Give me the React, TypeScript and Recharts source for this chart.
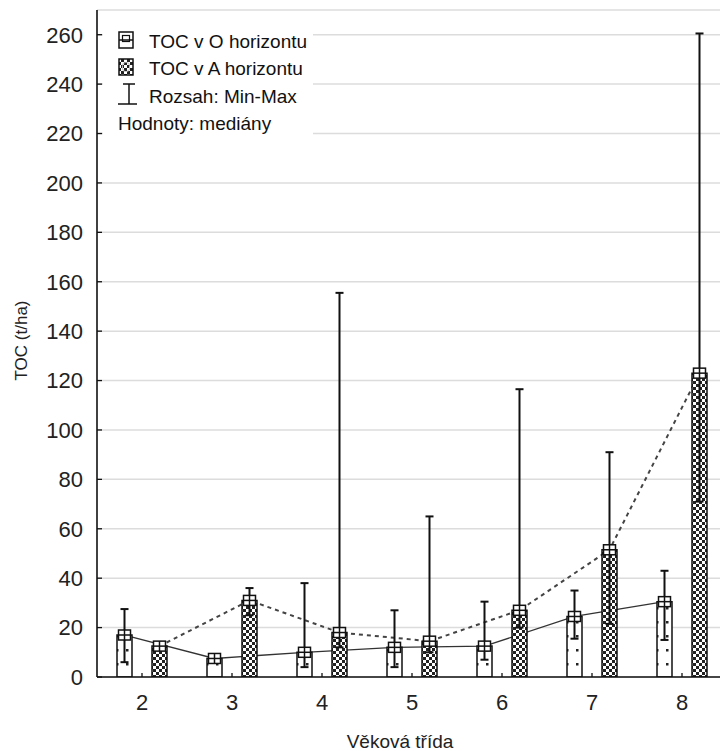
import { Bar, CartesianGrid, ComposedChart, ErrorBar, Legend, Line, XAxis, YAxis } from 'recharts';

const CATEGORIES = ['2', '3', '4', '5', '6', '7', '8'];
// TOC v O horizontu (medián, min, max)
const O_MEDIAN = [17, 7.5, 10, 12, 12.5, 24.5, 30.5];
const O_MIN = [6, 6.5, 4, 4, 7, 15.5, 15];
const O_MAX = [27.5, 8.5, 38, 27, 30.5, 35, 43];
// TOC v A horizontu (medián, min, max)
const A_MEDIAN = [12.5, 31, 18, 14.5, 27, 51.5, 123];
const A_MIN = [11, 25, 12, 10, 20, 21.5, 71];
const A_MAX = [13.5, 36, 155.5, 65, 116.5, 91, 260.5];
const Y_TICKS = [0, 20, 40, 60, 80, 100, 120, 140, 160, 180, 200, 220, 240, 260];

const FONT = '"Liberation Sans", Arial, sans-serif';
const PLOT_LEFT = 97;
const PLOT_W = 630;
const BAR_SIZE = 15;
const BAR_GAP = 20;
// bar centre offset inside a category, in category units
const SHIFT = (BAR_SIZE + BAR_GAP) / 2 / (PLOT_W / CATEGORIES.length);

const data = CATEGORIES.map((cat, i) => ({
  cat,
  o: O_MEDIAN[i],
  a: A_MEDIAN[i],
  errO: [O_MEDIAN[i] - O_MIN[i], O_MAX[i] - O_MEDIAN[i]],
  errA: [A_MEDIAN[i] - A_MIN[i], A_MAX[i] - A_MEDIAN[i]],
  xO: Number(cat) - SHIFT,
  xA: Number(cat) + SHIFT,
}));

function MedianMarker(props: any) {
  const { cx, cy } = props;
  if (cx == null || cy == null) return null;
  return (
    <g>
      <rect x={cx - 6} y={cy - 5} width={12} height={10} fill="#fff" stroke="#111" strokeWidth={1.5} />
      <line x1={cx - 6} x2={cx + 6} y1={cy} y2={cy} stroke="#111" strokeWidth={1.5} />
      <line x1={cx} x2={cx} y1={cy - 5} y2={cy + 5} stroke="#111" strokeWidth={1.5} />
    </g>
  );
}

function LegendBox() {
  const txt = { fontSize: 19, fill: '#111', fontFamily: FONT };
  return (
    <svg width={210} height={125} style={{ display: 'block' }}>
      <rect x={0} y={0} width={210} height={125} fill="#fff" />
      <rect x={16} y={15} width={14} height={16} fill="#fff" stroke="#111" strokeWidth={1.5} />
      <rect x={19.5} y={18.5} width={7} height={6} fill="none" stroke="#111" strokeWidth={1.2} />
      <line x1={16} x2={30} y1={23} y2={23} stroke="#111" strokeWidth={1.5} />
      <text x={46} y={31} {...txt}>TOC v O horizontu</text>
      <rect x={16} y={42} width={14} height={16} fill="url(#aFill)" stroke="#111" strokeWidth={1.5} />
      <rect x={19.5} y={45.5} width={7} height={9} rx={3} fill="none" stroke="#bbb" strokeWidth={1} />
      <text x={46} y={58} {...txt}>TOC v A horizontu</text>
      <line x1={20} x2={32} y1={67} y2={67} stroke="#111" strokeWidth={1.5} />
      <line x1={26} x2={26} y1={67} y2={87} stroke="#111" strokeWidth={1.5} />
      <line x1={15} x2={34} y1={87} y2={87} stroke="#111" strokeWidth={1.5} />
      <text x={46} y={86} {...txt}>Rozsah: Min-Max</text>
      <text x={15} y={113} {...txt}>Hodnoty: mediány</text>
    </svg>
  );
}

function YTitle(props: any) {
  const vb = props.viewBox || { y: 10, height: 667 };
  const cy = vb.y + vb.height / 2 - 3;
  return (
    <text transform={`translate(27, ${cy}) rotate(-90)`} textAnchor="middle" fontSize={17} fill="#222" fontFamily={FONT}>
      TOC (t/ha)
    </text>
  );
}

function XTitle(props: any) {
  const vb = props.viewBox || { x: 97, y: 677, width: 630, height: 74 };
  return (
    <text x={vb.x + vb.width / 2 - 12} y={vb.y + vb.height - 3} textAnchor="middle" fontSize={19} fill="#222" fontFamily={FONT}>
      Věková třída
    </text>
  );
}

export default function App() {
  return (
    <div style={{ position: 'absolute', left: 0, top: 0, width: 720, height: 751, overflow: 'hidden', background: '#fff', fontFamily: FONT }}>
      <svg width={0} height={0} style={{ position: 'absolute' }}>
        <defs>
          <pattern id="oFill" width={10} height={14} patternUnits="userSpaceOnUse">
            <rect width={10} height={14} fill="#fff" />
            <rect x={6} y={5} width={2.5} height={2.5} fill="#222" />
          </pattern>
          <pattern id="aFill" width={6} height={6} patternUnits="userSpaceOnUse">
            <rect width={6} height={6} fill="#fff" />
            <rect x={0} y={0} width={3} height={3} fill="#222" />
            <rect x={3} y={3} width={3} height={3} fill="#222" />
          </pattern>
        </defs>
      </svg>
      <ComposedChart
        width={PLOT_LEFT + PLOT_W + 13}
        height={751}
        data={data}
        barSize={BAR_SIZE}
        barGap={BAR_GAP}
        margin={{ top: 10, right: 13, left: 0, bottom: 0 }}
      >
        <CartesianGrid xAxisId="cat" vertical={false} stroke="#dcdcdc" strokeWidth={1.5} />
        <XAxis
          xAxisId="cat"
          dataKey="cat"
          height={74}
          axisLine={{ stroke: '#111', strokeWidth: 1.6 }}
          tickLine={{ stroke: '#111', strokeWidth: 1.3 }}
          tickSize={-4}
          tickMargin={21}
          tick={{ fontSize: 22, fill: '#222', fontFamily: FONT }}
          interval={0}
          label={<XTitle />}
        />
        <XAxis
          xAxisId="numO"
          dataKey="xO"
          type="number"
          orientation="top"
          domain={[1.5, 8.5]}
          ticks={[2, 3, 4, 5, 6, 7, 8]}
          height={0}
          tick={false}
          tickSize={-4}
          axisLine={{ stroke: '#111', strokeWidth: 1.6 }}
          tickLine={{ stroke: '#111', strokeWidth: 1.3 }}
          allowDataOverflow
        />
        <XAxis xAxisId="numA" dataKey="xA" type="number" domain={[1.5, 8.5]} hide allowDataOverflow />
        <YAxis
          width={PLOT_LEFT}
          domain={[0, 270]}
          ticks={Y_TICKS}
          interval={0}
          axisLine={{ stroke: '#111', strokeWidth: 1.6 }}
          tickLine={{ stroke: '#111', strokeWidth: 1.3 }}
          tickSize={-5}
          tickMargin={19}
          tick={{ fontSize: 22, fill: '#222', fontFamily: FONT }}
          label={<YTitle />}
          allowDataOverflow
        />
        <Line
          xAxisId="numO"
          dataKey="o"
          stroke="#333"
          strokeWidth={1.3}
          dot={false}
          activeDot={false}
          isAnimationActive={false}
          zIndex={250}
        />
        <Line
          xAxisId="numA"
          dataKey="a"
          stroke="#444"
          strokeWidth={2}
          strokeDasharray="4 4"
          dot={false}
          activeDot={false}
          isAnimationActive={false}
          zIndex={250}
        />
        <Bar xAxisId="cat" dataKey="o" fill="url(#oFill)" stroke="#111" strokeWidth={1.5} isAnimationActive={false}>
          <ErrorBar dataKey="errO" width={4} stroke="#111" strokeWidth={2} isAnimationActive={false} />
        </Bar>
        <Bar xAxisId="cat" dataKey="a" fill="url(#aFill)" stroke="#111" strokeWidth={1.5} isAnimationActive={false}>
          <ErrorBar dataKey="errA" width={4} stroke="#111" strokeWidth={2} isAnimationActive={false} />
        </Bar>
        <Line
          xAxisId="numO"
          dataKey="o"
          stroke="none"
          dot={<MedianMarker />}
          activeDot={false}
          isAnimationActive={false}
          zIndex={700}
        />
        <Line
          xAxisId="numA"
          dataKey="a"
          stroke="none"
          dot={<MedianMarker />}
          activeDot={false}
          isAnimationActive={false}
          zIndex={700}
        />
        <Legend
          layout="vertical"
          align="center"
          verticalAlign="middle"
          wrapperStyle={{ left: 103, top: 17, width: 210, height: 125 }}
          content={() => <LegendBox />}
        />
      </ComposedChart>
    </div>
  );
}
